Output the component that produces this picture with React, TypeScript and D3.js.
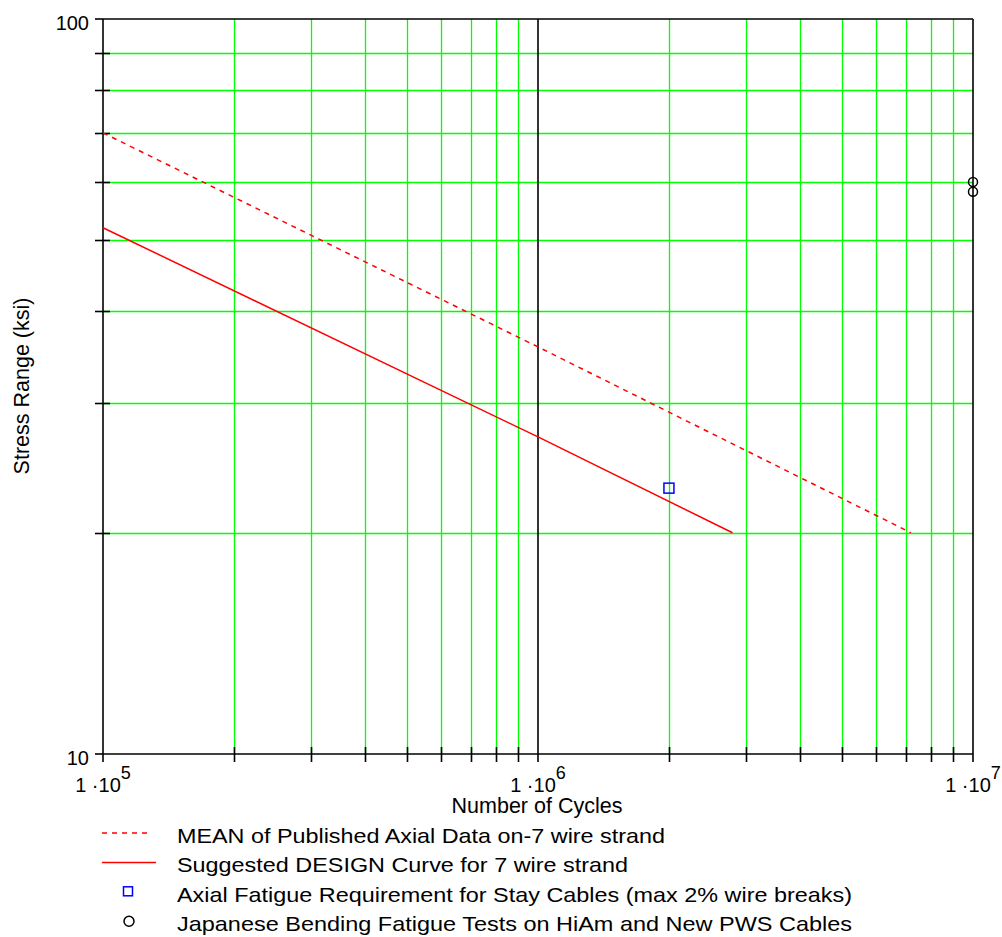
import React from 'react';
import * as d3 from 'd3';

const meanCycles = [1e5, 1e6, 7.2e6];
const meanStress = [70, 35.8, 20];
const designCycles = [1e5, 1e6, 2.8e6];
const designStress = [52, 27, 20];
const axialCycles = [2e6];
const axialStress = [23];
const bendingCycles = [1e7, 1e7];
const bendingStress = [60, 58.2];

const xMajor = [1e5, 1e6, 1e7];
const xExp = ['5', '6', '7'];
const yMajor = [10, 100];
const legendLabels = [
  'MEAN of Published Axial Data on-7 wire strand',
  'Suggested DESIGN Curve for 7 wire strand',
  'Axial Fatigue Requirement for Stay Cables (max 2% wire breaks)',
  'Japanese Bending Fatigue Tests on HiAm and New PWS Cables',
];
// the reference font runs wider than Liberation Sans
const legendWidths = [488, 451, 675, 675];

const width = 1002;
const height = 937;
const margin = { left: 103, right: 29, top: 19, bottom: 183 };
const font = '"Liberation Sans", Arial, sans-serif';
const green = '#00ff00';

const App = () => {
  const x = d3
    .scaleLog()
    .domain([1e5, 1e7])
    .range([margin.left, width - margin.right]);
  const y = d3
    .scaleLog()
    .domain([10, 100])
    .range([height - margin.bottom, margin.top]);

  const xMinor = x.ticks().filter((t) => !xMajor.includes(t));
  const yMinor = y.ticks().filter((t) => !yMajor.includes(t));
  const px = (v: number) => Math.round(v) + 0.5;

  const line = d3
    .line<[number, number]>()
    .x((d) => x(d[0]))
    .y((d) => y(d[1]));
  const meanPath = line(meanCycles.map((n, i) => [n, meanStress[i]]));
  const designPath = line(designCycles.map((n, i) => [n, designStress[i]]));

  const [x0, x1] = x.range();
  const [y0, y1] = y.range();
  const legendTop = 833;
  const rowGap = 29.4;

  return (
    <svg
      width={width}
      height={height}
      style={{ position: 'absolute', left: 0, top: 0, background: '#fff' }}
      fontFamily={font}
    >
      {/* grid */}
      <g stroke={green} strokeWidth={1.3}>
        {xMinor.map((t) => (
          <line key={'gx' + t} x1={px(x(t))} x2={px(x(t))} y1={y1} y2={y0} />
        ))}
        {yMinor.map((t) => (
          <line key={'gy' + t} x1={x0} x2={x1} y1={px(y(t))} y2={px(y(t))} />
        ))}
      </g>
      {/* ticks and frame */}
      <g stroke="#000" strokeWidth={1.6}>
        {xMinor.map((t) => (
          <line key={'tx' + t} x1={px(x(t))} x2={px(x(t))} y1={y0 - 7} y2={y0 + 8} />
        ))}
        {yMinor.map((t) => (
          <line key={'ty' + t} x1={x0 - 8} x2={x0 + 7} y1={px(y(t))} y2={px(y(t))} />
        ))}
        {yMajor.map((t) => (
          <line key={'ym' + t} x1={x0 - 8} x2={x0} y1={y(t)} y2={y(t)} />
        ))}
        {xMajor.map((t) => (
          <line key={'mx' + t} x1={x(t)} x2={x(t)} y1={y1} y2={y0 + 8} />
        ))}
        <line x1={x0} x2={x1} y1={y1} y2={y1} />
        <line x1={x0} x2={x1} y1={y0} y2={y0} />
      </g>
      {/* curves */}
      <path
        d={meanPath || ''}
        fill="none"
        stroke="#ff0000"
        strokeWidth={1.5}
        strokeDasharray="5,5"
      />
      <path d={designPath || ''} fill="none" stroke="#ff0000" strokeWidth={1.5} />
      {axialCycles.map((n, i) => (
        <rect
          key={'sq' + i}
          x={x(n) - 5}
          y={y(axialStress[i]) - 5}
          width={10}
          height={10}
          fill="none"
          stroke="#0000ff"
          strokeWidth={1.5}
        />
      ))}
      {bendingCycles.map((n, i) => (
        <circle
          key={'c' + i}
          cx={x(n)}
          cy={y(bendingStress[i])}
          r={4.5}
          fill="none"
          stroke="#000"
          strokeWidth={1.5}
        />
      ))}
      {/* axis labels */}
      <g fontSize={20} fill="#000">
        {yMajor.map((t) => (
          <text key={'yl' + t} x={x0 - 14} y={y(t) + 11} textAnchor="end">
            {t}
          </text>
        ))}
        {xMajor.map((t, i) => (
          <text key={'xl' + t} x={x(t)} y={792} textAnchor="middle">
            <tspan>1 ·10</tspan>
            <tspan fontSize={18} dy={-13}>
              {xExp[i]}
            </tspan>
          </text>
        ))}
      </g>
      <text x={537} y={813} textAnchor="middle" fontSize={21.5}>
        Number of Cycles
      </text>
      <text
        transform={`translate(29, ${386}) rotate(-90)`}
        textAnchor="middle"
        fontSize={21.5}
      >
        Stress Range (ksi)
      </text>
      {/* legend */}
      <g fontSize={21}>
        <line
          x1={102}
          x2={150}
          y1={legendTop}
          y2={legendTop}
          stroke="#ff0000"
          strokeWidth={1.5}
          strokeDasharray="5,5"
        />
        <line
          x1={102}
          x2={156}
          y1={legendTop + rowGap}
          y2={legendTop + rowGap}
          stroke="#ff0000"
          strokeWidth={1.5}
        />
        <rect
          x={123.5}
          y={legendTop + rowGap * 2 - 5}
          width={9}
          height={9}
          fill="none"
          stroke="#0000ff"
          strokeWidth={1.5}
        />
        <circle
          cx={129}
          cy={legendTop + rowGap * 3}
          r={5}
          fill="none"
          stroke="#000"
          strokeWidth={1.5}
        />
        {legendLabels.map((l, i) => (
          <text
            key={l}
            x={177}
            y={legendTop + rowGap * i + 10}
            textLength={legendWidths[i]}
            lengthAdjust="spacingAndGlyphs"
          >
            {l}
          </text>
        ))}
      </g>
    </svg>
  );
};

export default App;
